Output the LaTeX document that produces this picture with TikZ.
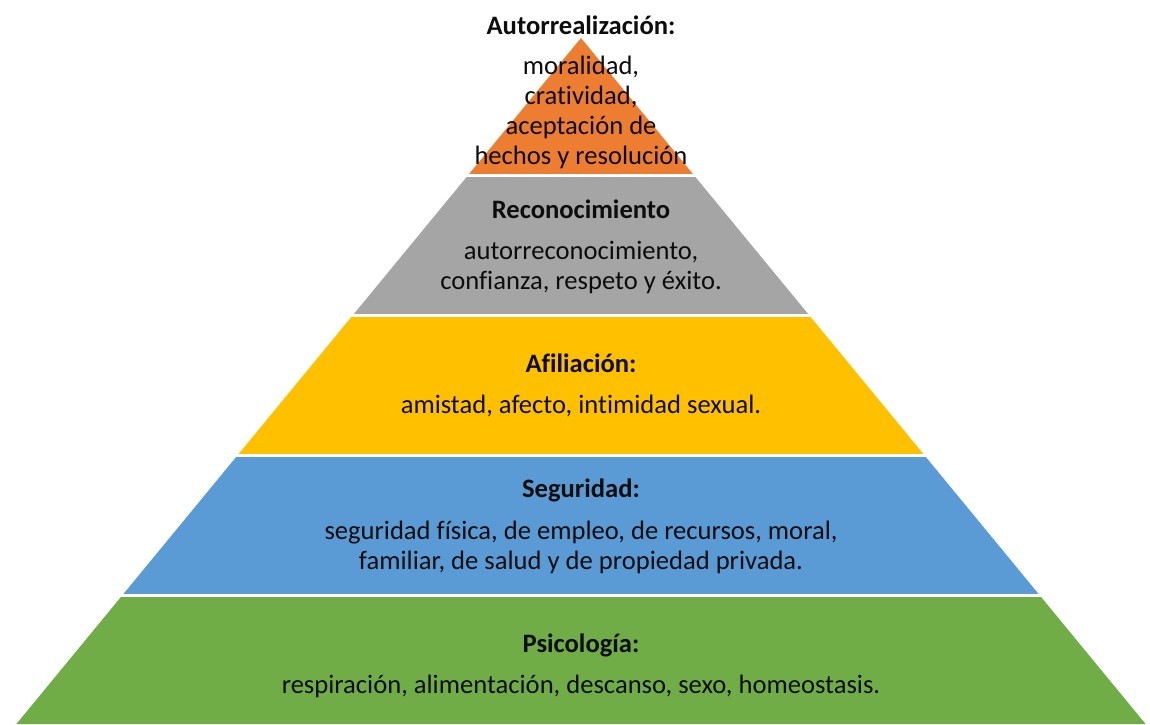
\documentclass[tikz,border=0pt]{standalone}
\usepackage{fontspec}
\setmainfont{Carlito}[Ligatures=NoCommon]
\definecolor{cOrange}{HTML}{ED7D31}
\definecolor{cGray}{HTML}{A5A5A5}
\definecolor{cYellow}{HTML}{FFC000}
\definecolor{cBlue}{HTML}{5B9BD5}
\definecolor{cGreen}{HTML}{70AD47}
\definecolor{cText}{HTML}{0D0D0D}
\tikzset{
  ttl/.style={anchor=base, inner sep=0pt, text=cText, font=\fontsize{26.6}{29.7}\selectfont\bfseries},
  body/.style={anchor=base, inner sep=0pt, text=cText, align=center, font=\fontsize{26.6}{29.7}\selectfont},
}
\begin{document}
\begin{tikzpicture}[x=1pt,y=-1pt]
\useasboundingbox (0,0) rectangle (1150,724);
\fill[white] (0,0) rectangle (1150,724);
\begin{scope}
  \clip (581,38) -- (1145.6,724) -- (16.4,724) -- cycle;
  \fill[cOrange] (0,30) rectangle (1150,174);
  \fill[cGray]   (0,177) rectangle (1150,314);
  \fill[cYellow] (0,317) rectangle (1150,454);
  \fill[cBlue]   (0,457) rectangle (1150,594);
  \fill[cGreen]  (0,597) rectangle (1150,730);
\end{scope}
% anchor=base of a multi-line node is the baseline of its last line
\node[ttl] (t1) at (581,34) {Autorrealización:};
\node[body] (b1) at (581,164) {moralidad,\\cratividad,\\aceptación de\\hechos y resolución};
\node[ttl] (t2) at (581,218) {Reconocimiento};
\node[body] (b2) at (581,289) {autorreconocimiento,\\confianza, respeto y éxito.};
\node[ttl] (t3) at (581,372) {Afiliación:};
\node[body] (b3) at (581,413) {amistad, afecto, intimidad sexual.};
\node[ttl] (t4) at (581,497) {Seguridad:};
\node[body] (b4) at (581,569) {seguridad física, de empleo, de recursos, moral,\\familiar, de salud y de propiedad privada.};
\node[ttl] (t5) at (581,652) {Psicología:};
\node[body] (b5) at (581,693) {respiración, alimentación, descanso, sexo, homeostasis.};
\end{tikzpicture}
\end{document}
